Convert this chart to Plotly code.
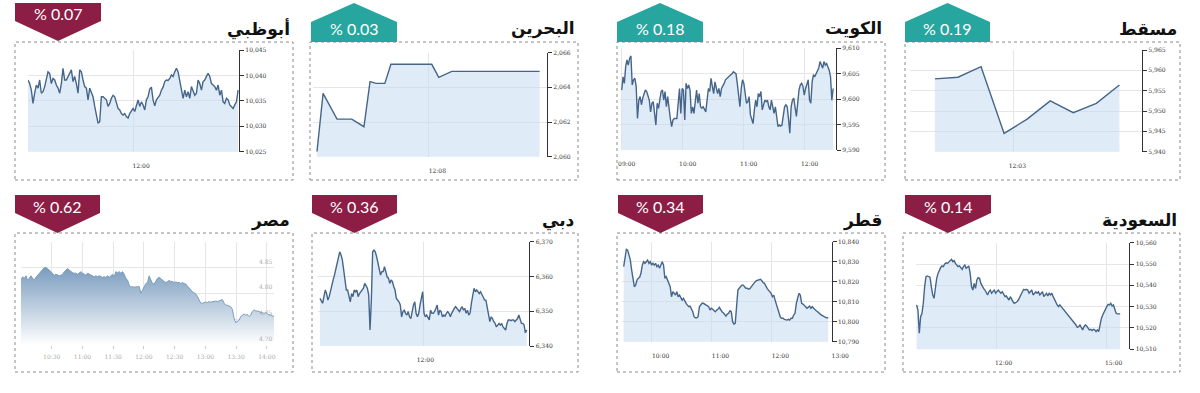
import numpy as np
import plotly.graph_objects as go

W, H = 1200, 393

# ----------------------------- DATA -----------------------------
TITLES = ["أبوظبي", "البحرين", "الكويت", "مسقط", "مصر", "دبي", "قطر", "السعودية"]
CHANGES = ["% 0.07", "% 0.03", "% 0.18", "% 0.19", "% 0.62", "% 0.36", "% 0.34", "% 0.14"]
DIRECTIONS = ["down", "up", "up", "up", "down", "down", "down", "down"]

ABU_DHABI_SPAN = ("10:00", "14:00")
ABU_DHABI_VALUES = [
    10039.1, 10038.4, 10037.1, 10034.5, 10036.5, 10038.1, 10037.5, 10039.1, 10036.5, 10036.8,
    10037.8, 10039.1, 10040.7, 10040.4, 10038.4, 10039.4, 10039.1, 10038.1, 10037.5, 10036.5,
    10038.4, 10041.4, 10039.1, 10039.1, 10039.8, 10040.4, 10041.1, 10038.8, 10039.8, 10038.4,
    10036.5, 10041.1, 10040.7, 10039.1, 10037.8, 10037.5, 10035.2, 10037.5, 10036.5, 10035.8,
    10033.9, 10032.5, 10030.6, 10030.9, 10035.8, 10035.8, 10035.5, 10035.2, 10033.9, 10034.5,
    10035.5, 10036.1, 10035.8, 10034.5, 10033.5, 10033.2, 10032.5, 10032.2, 10032.5, 10031.9,
    10031.6, 10032.5, 10032.9, 10033.5, 10032.9, 10033.9, 10035.2, 10033.9, 10034.8, 10034.2,
    10033.2, 10035.2, 10035.8, 10037.3, 10037.7, 10035.2, 10034.0, 10035.2, 10035.8, 10036.1,
    10037.1, 10037.7, 10038.8, 10039.1, 10039.0, 10039.4, 10040.1, 10039.8, 10040.7, 10041.4,
    10040.7, 10039.1, 10037.5, 10035.5, 10037.1, 10035.8, 10036.8, 10035.5, 10037.8, 10037.1,
    10036.1, 10036.5, 10039.1, 10038.4, 10037.1, 10038.8, 10039.1, 10039.8, 10040.4, 10039.8,
    10038.4, 10038.1, 10037.8, 10037.1, 10038.1, 10036.1, 10037.1, 10034.8, 10034.5, 10035.5,
    10035.2, 10034.2, 10033.9, 10033.5, 10034.2, 10034.8, 10037.1,
]
ABU_DHABI_TICKS = ["12:00"]

BAHRAIN_TIMES = ["10:00", "10:07", "10:23", "10:40", "10:54", "11:01", "11:08",
                 "11:18", "11:25", "12:12", "12:20", "12:35", "14:16"]
BAHRAIN_VALUES = [2060.30, 2063.65, 2062.17, 2062.17, 2061.73, 2064.33, 2064.23,
                  2064.23, 2065.33, 2065.33, 2064.58, 2064.92, 2064.92]
BAHRAIN_TICKS = ["12:08"]

KUWAIT_SPAN = ("09:00", "12:28")
KUWAIT_VALUES = [
    9601.8, 9604.4, 9603.1, 9606.4, 9607.7, 9606.7, 9608.0, 9608.5, 9602.8, 9603.8,
    9604.1, 9602.5, 9596.2, 9599.8, 9600.5, 9598.9, 9600.2, 9601.1, 9601.8, 9601.5,
    9600.8, 9599.8, 9597.5, 9599.2, 9599.5, 9597.2, 9594.9, 9599.2, 9598.2, 9599.8,
    9601.5, 9601.8, 9599.8, 9601.5, 9598.5, 9600.5, 9597.9, 9596.2, 9594.6, 9595.9,
    9596.2, 9596.2, 9596.2, 9599.2, 9602.1, 9597.2, 9602.1, 9601.8, 9595.9, 9603.1,
    9602.1, 9602.8, 9601.8, 9597.2, 9598.5, 9597.2, 9599.8, 9601.8, 9599.2, 9601.1,
    9598.5, 9598.2, 9598.5, 9597.9, 9597.5, 9599.8, 9602.1, 9601.5, 9604.1, 9602.5,
    9601.1, 9603.4, 9601.8, 9601.1, 9602.1, 9600.5, 9602.1, 9602.5, 9603.1, 9603.8,
    9604.1, 9604.4, 9604.6, 9604.8, 9605.0, 9605.4, 9605.2, 9605.0, 9603.1, 9600.5,
    9598.5, 9602.1, 9603.8, 9603.1, 9601.5, 9599.2, 9599.5, 9600.5, 9596.9, 9596.2,
    9595.2, 9597.9, 9599.8, 9598.5, 9601.1, 9600.5, 9601.5, 9597.9, 9599.2, 9599.8,
    9599.5, 9599.8, 9598.5, 9597.9, 9599.8, 9598.2, 9597.2, 9598.5, 9595.9, 9594.6,
    9594.9, 9594.7, 9594.9, 9597.2, 9598.5, 9598.9, 9598.5, 9596.2, 9593.3, 9598.5,
    9599.8, 9600.2, 9598.5, 9596.6, 9599.2, 9601.8, 9602.8, 9603.1, 9602.5, 9600.8,
    9602.1, 9603.1, 9603.8, 9599.8, 9599.2, 9603.4, 9604.8, 9604.4, 9605.1, 9605.4,
    9606.1, 9607.4, 9606.7, 9606.1, 9607.4, 9606.7, 9607.0, 9606.4, 9605.7, 9604.4,
    9599.8, 9602.1,
]
KUWAIT_TICKS = ["09:00", "10:00", "11:00", "12:00"]

MUSCAT_TIMES = ["11:46", "11:51", "11:56", "12:01", "12:06", "12:11", "12:16", "12:21", "12:26"]
MUSCAT_VALUES = [5957.9, 5958.3, 5960.9, 5944.5, 5948.0, 5952.5, 5949.6, 5951.9, 5956.4]
MUSCAT_TICKS = ["12:03"]

EGYPT_SPAN = ("10:00", "14:07")
EGYPT_VALUES = [
    4.826, 4.832, 4.829, 4.834, 4.825, 4.831, 4.834, 4.829, 4.826, 4.831,
    4.835, 4.839, 4.842, 4.846, 4.850, 4.850, 4.848, 4.845, 4.842, 4.839,
    4.835, 4.837, 4.835, 4.834, 4.835, 4.837, 4.842, 4.846, 4.848, 4.845,
    4.842, 4.840, 4.839, 4.839, 4.837, 4.840, 4.842, 4.839, 4.837, 4.835,
    4.839, 4.837, 4.835, 4.834, 4.832, 4.834, 4.832, 4.834, 4.832, 4.831,
    4.832, 4.831, 4.834, 4.831, 4.834, 4.837, 4.832, 4.842, 4.840, 4.842,
    4.839, 4.842, 4.837, 4.829, 4.826, 4.816, 4.812, 4.813, 4.812, 4.813,
    4.813, 4.813, 4.800, 4.806, 4.813, 4.819, 4.821, 4.834, 4.826, 4.819,
    4.818, 4.823, 4.829, 4.831, 4.829, 4.826, 4.823, 4.821, 4.823, 4.825,
    4.823, 4.823, 4.821, 4.822, 4.821, 4.821, 4.819, 4.821, 4.819, 4.818,
    4.814, 4.810, 4.806, 4.803, 4.801, 4.799, 4.794, 4.787, 4.781, 4.781,
    4.782, 4.783, 4.782, 4.784, 4.783, 4.784, 4.785, 4.785, 4.784, 4.785,
    4.787, 4.788, 4.781, 4.777, 4.777, 4.776, 4.774, 4.769, 4.752, 4.743,
    4.745, 4.748, 4.755, 4.758, 4.760, 4.758, 4.759, 4.755, 4.758, 4.765,
    4.768, 4.766, 4.766, 4.765, 4.763, 4.763, 4.761, 4.763, 4.761, 4.758,
    4.758, 4.756, 4.755,
]
EGYPT_TICKS = ["10:30", "11:00", "11:30", "12:00", "12:30", "13:00", "13:30", "14:00"]
EGYPT_YTICKS = [4.70, 4.75, 4.80, 4.85, 4.90]
EGYPT_YLABELS = ["4.70", "4.75", "4.80", "4.85", ""]

DUBAI_SPAN = ("10:00", "14:00")
DUBAI_VALUES = [
    6353.7, 6352.7, 6352.3, 6354.2, 6356.1, 6355.1, 6353.2, 6354.2, 6356.1, 6357.1,
    6359.0, 6360.4, 6361.9, 6363.3, 6365.2, 6367.1, 6366.2, 6364.7, 6361.9, 6359.5,
    6356.1, 6356.1, 6354.2, 6352.7, 6355.1, 6354.2, 6356.1, 6355.6, 6356.1, 6354.2,
    6355.1, 6355.6, 6356.1, 6356.6, 6358.0, 6357.1, 6356.6, 6354.7, 6344.6, 6353.2,
    6367.1, 6367.6, 6367.1, 6365.7, 6364.2, 6361.9, 6360.4, 6361.4, 6361.4, 6362.8,
    6360.9, 6359.9, 6359.5, 6358.0, 6359.0, 6358.5, 6357.1, 6356.1, 6353.7, 6353.2,
    6352.7, 6351.8, 6348.4, 6349.9, 6350.3, 6349.4, 6348.9, 6349.9, 6348.4, 6347.9,
    6350.3, 6351.8, 6352.7, 6349.4, 6348.4, 6349.4, 6351.8, 6354.2, 6355.6, 6349.4,
    6348.4, 6348.9, 6347.9, 6347.5, 6350.3, 6349.4, 6349.4, 6349.9, 6350.8, 6351.8,
    6348.9, 6350.3, 6349.9, 6348.4, 6348.9, 6348.6, 6349.4, 6349.9, 6349.4, 6348.4,
    6349.4, 6350.3, 6350.8, 6351.3, 6350.8, 6350.3, 6349.9, 6350.8, 6351.3, 6350.3,
    6350.8, 6349.4, 6350.3, 6348.9, 6349.4, 6352.3, 6355.1, 6356.6, 6355.6, 6356.1,
    6355.6, 6355.1, 6355.6, 6354.7, 6354.2, 6353.2, 6353.2, 6351.3, 6349.4, 6347.0,
    6348.4, 6347.9, 6347.0, 6346.5, 6345.5, 6346.0, 6346.5, 6346.0, 6346.5, 6345.5,
    6345.1, 6344.6, 6346.5, 6347.5, 6347.5, 6347.3, 6347.5, 6347.5, 6347.0, 6347.5,
    6347.9, 6348.9, 6347.5, 6346.5, 6346.5, 6346.0, 6343.8, 6344.6,
]
DUBAI_TICKS = ["12:00"]

QATAR_SPAN = ("09:32", "12:57")
QATAR_VALUES = [
    10827.5, 10831.7, 10836.2, 10835.8, 10833.3, 10830.8, 10825.8, 10820.8, 10817.5, 10818.3,
    10820.8, 10821.7, 10822.2, 10824.2, 10828.3, 10830.0, 10829.2, 10830.0, 10830.8, 10829.2,
    10830.0, 10828.3, 10829.2, 10828.3, 10829.2, 10827.5, 10828.3, 10826.7, 10828.3, 10830.0,
    10828.3, 10821.7, 10822.5, 10820.8, 10819.2, 10817.5, 10812.5, 10815.0, 10814.2, 10813.3,
    10815.0, 10812.5, 10813.3, 10811.7, 10810.8, 10811.7, 10810.0, 10809.2, 10808.3, 10807.5,
    10807.8, 10806.7, 10805.0, 10802.5, 10802.0, 10802.0, 10802.5, 10807.5, 10808.3, 10809.2,
    10809.2, 10808.8, 10808.3, 10808.3, 10807.5, 10805.8, 10806.7, 10806.2, 10805.5, 10805.0,
    10805.8, 10806.2, 10807.2, 10805.8, 10805.0, 10804.5, 10803.3, 10802.8, 10803.8, 10804.2,
    10805.5, 10805.0, 10800.0, 10798.8, 10799.2, 10810.8, 10815.8, 10816.7, 10817.5, 10818.3,
    10818.3, 10817.5, 10816.7, 10816.7, 10816.2, 10816.5, 10817.5, 10818.3, 10819.2, 10820.0,
    10820.5, 10820.8, 10821.2, 10821.2, 10820.5, 10819.5, 10819.2, 10817.5, 10816.7, 10815.8,
    10815.0, 10814.2, 10812.5, 10813.3, 10810.8, 10808.3, 10806.7, 10804.2, 10802.2, 10801.7,
    10801.7, 10801.2, 10800.8, 10800.8, 10801.2, 10800.8, 10801.7, 10801.7, 10803.3, 10804.2,
    10809.2, 10812.5, 10814.2, 10813.3, 10809.2, 10808.8, 10808.3, 10807.5, 10806.7, 10807.2,
    10807.8, 10806.7, 10807.5, 10806.7, 10805.8, 10805.5, 10805.0, 10804.2, 10803.8, 10803.3,
    10802.8, 10802.5, 10802.2, 10802.0, 10802.0,
]
QATAR_TICKS = ["10:00", "11:00", "12:00", "13:00"]

SAUDI_SPAN = ("09:49", "15:22")
SAUDI_VALUES = [
    10530.8, 10528.4, 10517.5, 10525.3, 10526.9, 10531.6, 10539.4, 10544.1, 10544.4, 10544.1,
    10543.8, 10539.4, 10535.5, 10533.9, 10539.4, 10543.3, 10545.6, 10547.2, 10548.4, 10549.1,
    10548.8, 10550.0, 10550.6, 10550.3, 10551.1, 10551.9, 10552.2, 10551.1, 10551.6, 10550.3,
    10549.5, 10548.8, 10549.1, 10548.4, 10547.5, 10548.8, 10549.5, 10548.0, 10548.8, 10549.1,
    10545.6, 10539.4, 10537.8, 10540.9, 10538.6, 10542.5, 10543.6, 10543.3, 10540.9, 10539.4,
    10538.6, 10537.8, 10536.3, 10535.5, 10537.0, 10537.8, 10536.3, 10537.0, 10537.8, 10536.3,
    10537.0, 10537.8, 10537.0, 10536.3, 10537.0, 10535.5, 10534.7, 10535.0, 10533.9, 10533.1,
    10534.7, 10533.1, 10532.3, 10531.6, 10531.9, 10532.3, 10533.1, 10534.7, 10535.5, 10537.0,
    10538.1, 10537.8, 10538.1, 10537.8, 10536.3, 10537.0, 10537.8, 10535.5, 10536.3, 10537.0,
    10536.3, 10537.0, 10535.5, 10536.3, 10537.0, 10534.7, 10535.5, 10536.3, 10535.0, 10536.3,
    10535.5, 10536.3, 10534.7, 10533.1, 10531.6, 10530.8, 10530.0, 10530.8, 10530.0, 10529.2,
    10528.4, 10528.1, 10527.2, 10526.1, 10525.3, 10524.5, 10523.8, 10523.0, 10522.2, 10521.4,
    10520.3, 10520.6, 10521.4, 10519.8, 10519.1, 10520.6, 10521.4, 10520.9, 10519.8, 10519.1,
    10519.4, 10518.8, 10519.4, 10519.1, 10518.3, 10519.1, 10518.3, 10522.2, 10524.5, 10526.1,
    10527.7, 10528.4, 10530.0, 10531.1, 10530.8, 10531.6, 10530.3, 10530.8, 10528.1, 10526.9,
    10526.6, 10526.6, 10526.6,
]
SAUDI_TICKS = ["12:00", "15:00"]


def mins(t):
    h, m = t.split(":")
    return int(h) * 60 + int(m)


def span_x(span, values):
    return np.linspace(mins(span[0]), mins(span[1]), len(values))


SERIES = [
    (span_x(ABU_DHABI_SPAN, ABU_DHABI_VALUES), ABU_DHABI_VALUES, ABU_DHABI_TICKS),
    ([mins(t) for t in BAHRAIN_TIMES], BAHRAIN_VALUES, BAHRAIN_TICKS),
    (span_x(KUWAIT_SPAN, KUWAIT_VALUES), KUWAIT_VALUES, KUWAIT_TICKS),
    ([mins(t) for t in MUSCAT_TIMES], MUSCAT_VALUES, MUSCAT_TICKS),
    (span_x(EGYPT_SPAN, EGYPT_VALUES), EGYPT_VALUES, EGYPT_TICKS),
    (span_x(DUBAI_SPAN, DUBAI_VALUES), DUBAI_VALUES, DUBAI_TICKS),
    (span_x(QATAR_SPAN, QATAR_VALUES), QATAR_VALUES, QATAR_TICKS),
    (span_x(SAUDI_SPAN, SAUDI_VALUES), SAUDI_VALUES, SAUDI_TICKS),
]

# ----------------------------- LAYOUT (pixels) -----------------------------
LAYOUT = [
    dict(border=(15, 42, 293, 180), plot=(28, 50, 239, 151.7), xr=(600, 841), yr=(10025, 10045), dt=5, shift=8, badge=(15, 101, 3)),
    dict(border=(310, 42, 578, 180), plot=(313, 52.7, 547, 156.7), xr=(595.4, 864.5), yr=(2060, 2066), dt=2, shift=9, badge=(311, 397, 3)),
    dict(border=(617, 42, 885, 180), plot=(620, 48.3, 836, 150), xr=(538.3, 750.8), yr=(9590, 9610), dt=5, shift=5, badge=(617, 703, 3)),
    dict(border=(905, 42, 1180, 180), plot=(910, 50, 1142, 151.7), xr=(700.6, 750.9), yr=(5940, 5965), dt=5, shift=4, badge=(905, 990, 3)),
    dict(border=(15, 233, 293, 372), plot=(21, 241.7, 274, 345), xr=(600, 847), yr=(4.70, 4.90), dt=0.05, shift=0, badge=(15, 100, 195)),
    dict(border=(312, 233, 578, 372), plot=(318, 241.7, 529.3, 346), xr=(597.7, 843), yr=(6340, 6370), dt=10, shift=2, badge=(312, 397, 195)),
    dict(border=(617, 233, 885, 372), plot=(622, 241.7, 831.7, 341.7), xr=(570.3, 780.5), yr=(10790, 10840), dt=10, shift=9, badge=(618, 703, 195)),
    dict(border=(903, 233, 1180, 372), plot=(916, 242.7, 1129.3, 349.3), xr=(588, 937), yr=(10510, 10560), dt=10, shift=7, badge=(905, 991, 195)),
]

MAROON = "#8c1d45"
TEAL = "#27a69f"
LINE = "#45668a"
FILL = "rgba(196,219,240,0.55)"
GRID = "#e6e6e6"
TICKFONT = dict(family="DejaVu Serif", size=6, color="#333")
FAINT = dict(family="DejaVu Serif", size=6, color="#aaa")


def px(x):
    return x / W


def py(y):
    return 1 - y / H


fig = go.Figure()
shapes, annotations = [], []
layout = dict(width=W, height=H, margin=dict(l=0, r=0, t=0, b=0, pad=0), autosize=False,
              paper_bgcolor="white", plot_bgcolor="white", showlegend=False)

for i, ((xs, ys, ticks), L) in enumerate(zip(SERIES, LAYOUT)):
    s = "" if i == 0 else str(i + 1)
    egypt = i == 4
    trace = dict(x=list(xs), y=ys, mode="lines", xaxis="x" + s, yaxis="y" + s,
                 fill="tozeroy", hoverinfo="skip")
    if egypt:
        trace["line"] = dict(color="#7c9dbd", width=1)
        trace["fillgradient"] = dict(type="vertical", start=4.70, stop=4.85,
                                     colorscale=[[0, "rgba(255,255,255,1)"], [1, "rgba(122,156,190,1)"]])
    else:
        trace["line"] = dict(color=LINE, width=1.4)
        trace["fillcolor"] = FILL
    fig.add_trace(go.Scatter(**trace))

    x0, yt, x1, yb = L["plot"]
    xa = dict(domain=[px(x0), px(x1)], range=list(L["xr"]), anchor="y" + s,
              tickvals=[mins(t) for t in ticks], ticktext=ticks, automargin=False,
              showgrid=True, gridcolor=GRID, gridwidth=1, zeroline=False,
              showline=False, tickfont=TICKFONT, ticklabelshift=L["shift"],
              ticklabelstandoff=9, fixedrange=True)
    yvals = list(np.arange(L["yr"][0], L["yr"][1] + L["dt"] / 2, L["dt"]))
    ya = dict(domain=[py(yb), py(yt)], range=list(L["yr"]), anchor="x" + s, side="right",
              tickvals=yvals, showgrid=True, gridcolor=GRID, zeroline=False, automargin=False,
              tickfont=TICKFONT, fixedrange=True)
    if egypt:
        xa.update(ticks="outside", ticklen=3, tickcolor="#ccc", ticklabelstandoff=3, tickfont=FAINT)
        ya.update(tickvals=EGYPT_YTICKS, showticklabels=False, showline=False, ticks="")
        for v, lab in zip(EGYPT_YTICKS, EGYPT_YLABELS):
            if lab:
                annotations.append(dict(xref="paper", yref="y" + s, x=px(x1 + 1), y=v, text=lab,
                                        showarrow=False, xanchor="right", yanchor="bottom",
                                        yshift=1, font=FAINT))
    else:
        ya.update(tickformat=",d", showline=True, linecolor="#333", linewidth=1.3,
                  ticks="outside", ticklen=4, tickcolor="#333")
    layout["xaxis" + s] = xa
    layout["yaxis" + s] = ya

    bx0, by0, bx1, by1 = L["border"]
    shapes.append(dict(type="rect", xref="paper", yref="paper",
                       x0=px(bx0), x1=px(bx1), y0=py(by1), y1=py(by0),
                       line=dict(color="#8a8a8a", width=1, dash="dot"), layer="below"))

    ax0, ax1, atop = L["badge"]
    cx = (ax0 + ax1) / 2
    if DIRECTIONS[i] == "down":
        pts = [(ax0, atop), (ax1, atop), (ax1, atop + 18), (cx, atop + 38), (ax0, atop + 18)]
        color, ty = MAROON, atop + 11
    else:
        pts = [(ax0, atop + 39), (ax0, atop + 19), (cx, atop), (ax1, atop + 19), (ax1, atop + 39)]
        color, ty = TEAL, atop + 26
    path = "M " + " L ".join(f"{px(a):.5f},{py(b):.5f}" for a, b in pts) + " Z"
    shapes.append(dict(type="path", xref="paper", yref="paper", path=path,
                       fillcolor=color, line=dict(width=0)))
    annotations.append(dict(xref="paper", yref="paper", x=px(cx), y=py(ty),
                            text=CHANGES[i], showarrow=False, xanchor="center", yanchor="middle",
                            font=dict(family="Lato", size=16, color="white")))

    annotations.append(dict(xref="paper", yref="paper", x=px(bx1 - 1), y=py(by0 - 13),
                            text="<b>" + TITLES[i] + "</b>", showarrow=False,
                            xanchor="right", yanchor="middle",
                            font=dict(family="DejaVu Sans", size=17, color="#111")))

layout["shapes"] = shapes
layout["annotations"] = annotations
fig.update_layout(**layout)
fig.write_html("out.html", post_script="document.body.style.margin='0px';",
               config={"displayModeBar": False})
